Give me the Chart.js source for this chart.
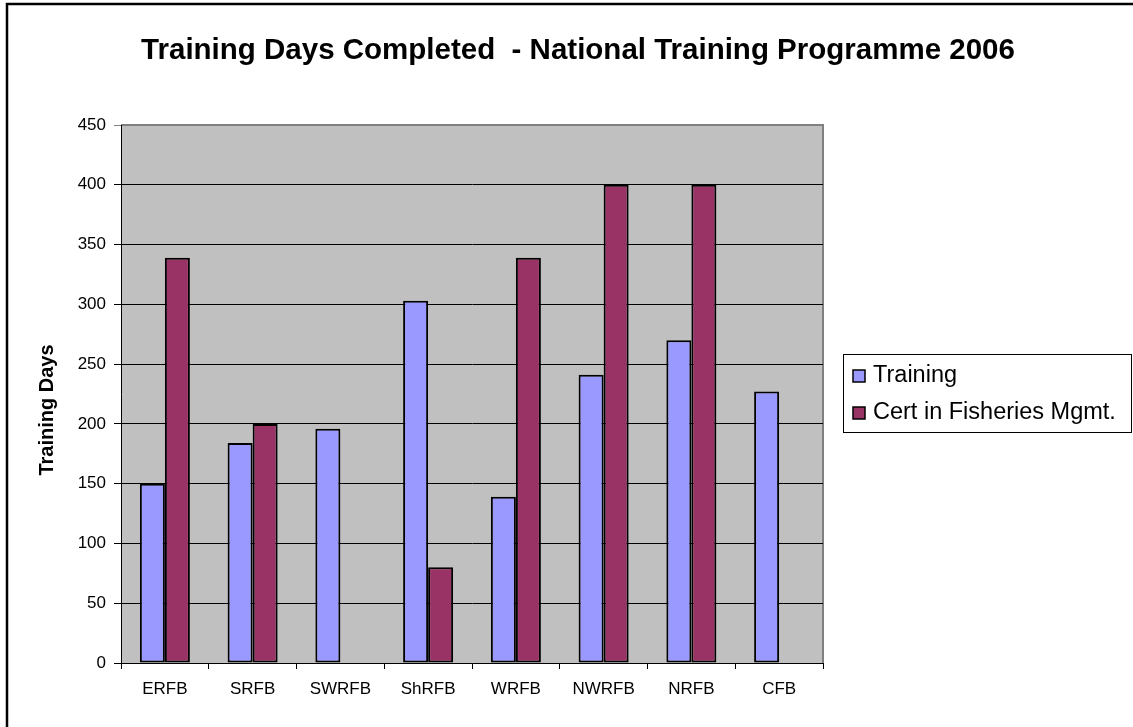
<!DOCTYPE html>
<html>
<head>
<meta charset="utf-8">
<title>Training Days Completed</title>
<script src="https://cdn.jsdelivr.net/npm/chart.js@4.4.1/dist/chart.umd.min.js"></script>
<style>
  html, body { margin: 0; padding: 0; background: #fff; }
  #wrap { width: 1133px; height: 727px; position: relative; }
</style>
</head>
<body>
<div id="wrap"><canvas id="trainingChart"></canvas></div>
<script>
// Data
const boards = ['ERFB', 'SRFB', 'SWRFB', 'ShRFB', 'WRFB', 'NWRFB', 'NRFB', 'CFB'];
const trainingDays = [150, 184, 196, 303, 139, 241, 270, 227];
const certDays = [339, 200, null, 80, 339, 400, 400, null];
const yTicks = [0, 50, 100, 150, 200, 250, 300, 350, 400, 450];

const chartTitle = 'Training Days Completed  - National Training Programme 2006';
const yTitle = 'Training Days';

const FONT = 'Arial, "Liberation Sans", sans-serif';

// Frame, plot background and the texts Excel put around the plot
const decorations = {
    id: 'decorations',
    beforeDraw(chart) {
        const { ctx, chartArea: a } = chart;
        ctx.save();
        ctx.fillStyle = '#ffffff';
        ctx.fillRect(0, 0, chart.width, chart.height);
        // outer frame (only top and left visible)
        ctx.strokeStyle = '#000';
        ctx.lineWidth = 2.5;
        ctx.beginPath();
        ctx.moveTo(7, chart.height);
        ctx.lineTo(7, 4);
        ctx.lineTo(chart.width, 4);
        ctx.stroke();
        // plot area
        ctx.fillStyle = '#c0c0c0';
        ctx.fillRect(a.left, a.top, a.right - a.left, a.bottom - a.top);
        ctx.strokeStyle = '#808080';
        ctx.lineWidth = 2;
        ctx.beginPath();
        ctx.moveTo(a.left, a.top);
        ctx.lineTo(a.right, a.top);
        ctx.lineTo(a.right, a.bottom);
        ctx.stroke();
        ctx.restore();
    },
    afterDraw(chart) {
        const { ctx } = chart;
        ctx.save();
        // main title
        ctx.fillStyle = '#000';
        ctx.font = 'bold 29.5px ' + FONT;
        ctx.textAlign = 'center';
        ctx.textBaseline = 'middle';
        ctx.fillText(chartTitle, 578, 51);
        // y axis title
        ctx.font = 'bold 20px ' + FONT;
        ctx.translate(47, 410);
        ctx.rotate(-Math.PI / 2);
        ctx.fillText(yTitle, 0, 0);
        ctx.restore();

        // legend box
        ctx.save();
        const lx = 843, ly = 354, lw = 288, lh = 78;
        ctx.fillStyle = '#fff';
        ctx.fillRect(lx, ly, lw, lh);
        ctx.strokeStyle = '#000';
        ctx.lineWidth = 1;
        ctx.strokeRect(lx + 0.5, ly + 0.5, lw, lh);
        ctx.font = '23.5px ' + FONT;
        ctx.textAlign = 'left';
        ctx.textBaseline = 'middle';
        chart.data.datasets.forEach((ds, i) => {
            const cy = 376 + i * 37;
            ctx.fillStyle = ds.backgroundColor;
            ctx.fillRect(853, cy - 6, 12, 12);
            ctx.lineWidth = 1.5;
            ctx.strokeRect(853, cy - 6, 12, 12);
            ctx.fillStyle = '#000';
            ctx.fillText(ds.label, 873, cy);
        });
        ctx.restore();
    }
};

const ctx = document.getElementById('trainingChart').getContext('2d');
new Chart(ctx, {
    type: 'bar',
    data: {
        labels: boards,
        datasets: [{
            label: 'Training',
            data: trainingDays,
            backgroundColor: '#9999ff',
            borderColor: '#000',
            borderWidth: 2,
            borderSkipped: false
        }, {
            label: 'Cert in Fisheries Mgmt.',
            data: certDays,
            backgroundColor: '#993366',
            borderColor: '#000',
            borderWidth: 2,
            borderSkipped: false
        }]
    },
    options: {
        responsive: true,
        maintainAspectRatio: false,
        animation: false,
        layout: {
            padding: { top: 125, right: 310, bottom: 0, left: 0 }
        },
        datasets: {
            bar: { categoryPercentage: 0.57, barPercentage: 1 }
        },
        plugins: {
            legend: { display: false },
            title: { display: false },
            tooltip: { enabled: false }
        },
        scales: {
            x: {
                afterFit: scale => { scale.height = 64; },
                grid: {
                    offset: true,
                    drawOnChartArea: false,
                    drawTicks: true,
                    tickLength: 6,
                    color: '#000'
                },
                border: { color: '#000', width: 1 },
                ticks: {
                    color: '#000',
                    padding: 10,
                    font: { family: FONT, size: 17 }
                }
            },
            y: {
                min: 0,
                max: 450,
                afterFit: scale => { scale.width = 121; },
                afterBuildTicks: scale => {
                    scale.ticks = yTicks.map(v => ({ value: v }));
                },
                grid: {
                    color: c => (c.tick && c.tick.value === 450) ? '#808080' : '#000',
                    lineWidth: 1,
                    tickLength: 7
                },
                border: { color: '#000', width: 1 },
                ticks: {
                    color: '#000',
                    padding: 8,
                    font: { family: FONT, size: 17 }
                }
            }
        }
    },
    plugins: [decorations]
});
</script>
</body>
</html>
